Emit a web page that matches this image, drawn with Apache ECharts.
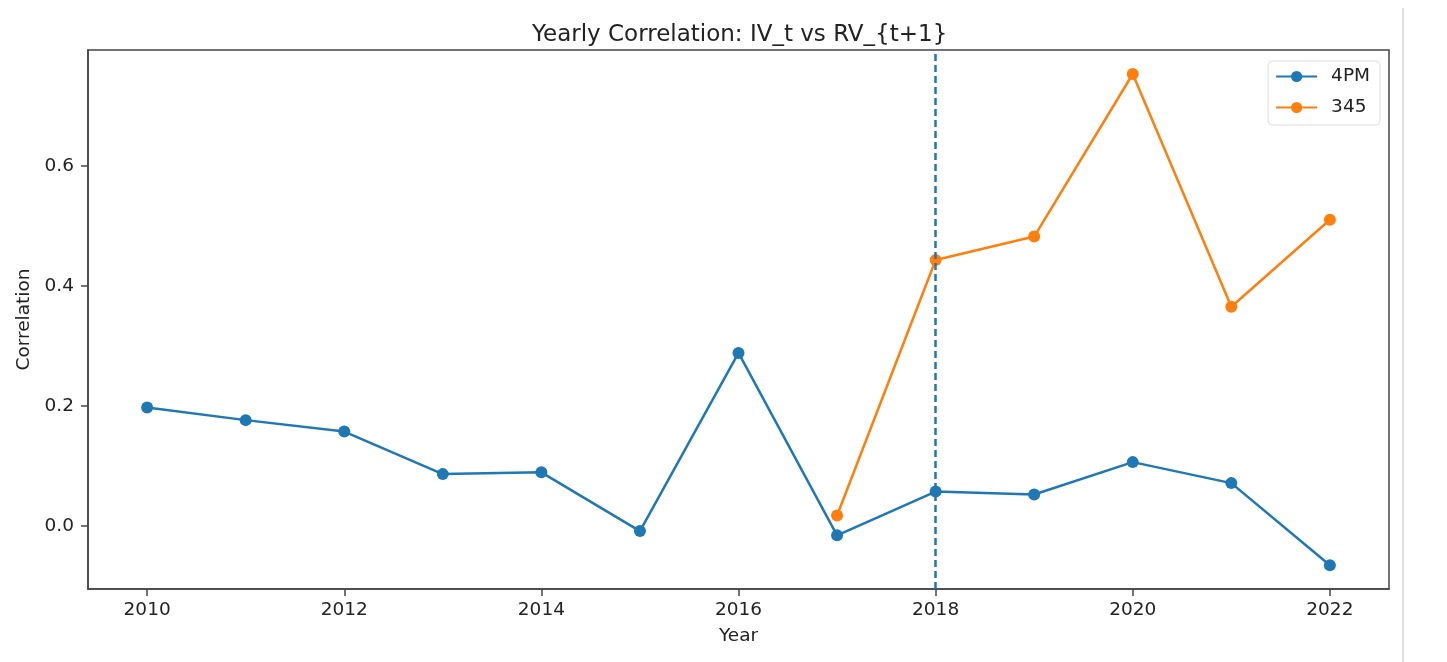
<!DOCTYPE html>
<html>
<head>
<meta charset="utf-8">
<script src="https://cdn.jsdelivr.net/npm/echarts@6/dist/echarts.min.js"></script>
<style>
  html, body { margin: 0; padding: 0; background: #fff; }
  #main { width: 1447px; height: 662px; }
</style>
</head>
<body>
<div id="main"></div>
<script>
const years = [2010, 2011, 2012, 2013, 2014, 2015, 2016, 2017, 2018, 2019, 2020, 2021, 2022];
const corr4pm = [0.197, 0.176, 0.157, 0.086, 0.089, -0.009, 0.288, -0.016, 0.057, 0.052, 0.106, 0.071, -0.066];
const years345 = [2017, 2018, 2019, 2020, 2021, 2022];
const corr345 = [0.017, 0.443, 0.482, 0.753, 0.365, 0.510];
const xTicks = [2010, 2012, 2014, 2016, 2018, 2020, 2022];
const yTicks = [0.0, 0.2, 0.4, 0.6];
const splitYear = 2018;

const font = 'DejaVu Sans';
const axisColor = '#444';

const chart = echarts.init(document.getElementById('main'));

chart.setOption({
  backgroundColor: '#fff',
  animation: false,
  textStyle: { fontFamily: font },
  title: {
    text: 'Yearly Correlation: IV_t vs RV_{t+1}',
    left: 527,
    top: 19,
    textStyle: { fontFamily: font, fontSize: 23, fontWeight: 'normal', color: '#222' }
  },
  legend: {
    orient: 'vertical',
    right: 67,
    top: 61,
    itemWidth: 41,
    itemHeight: 14,
    itemGap: 12,
    padding: [6, 10, 8, 7],
    borderColor: '#ddd',
    borderWidth: 1,
    borderRadius: 4,
    backgroundColor: '#fff',
    textStyle: { fontFamily: font, fontSize: 18.5, color: '#222', padding: [0, 0, 0, 9] },
    data: ['4PM', '345']
  },
  grid: { left: 88, right: 58, top: 50, bottom: 73, show: true, borderColor: axisColor, borderWidth: 1.5 },
  xAxis: {
    type: 'value',
    min: 2009.4,
    max: 2022.6,
    name: 'Year',
    nameLocation: 'middle',
    nameGap: 38,
    nameTextStyle: { fontFamily: font, fontSize: 18.5, color: '#222' },
    axisLine: { show: true, onZero: false, lineStyle: { color: axisColor, width: 1.5 } },
    axisTick: { show: true, length: 7, lineStyle: { color: axisColor, width: 1.5 }, customValues: xTicks },
    axisLabel: { fontFamily: font, fontSize: 18.5, color: '#222', margin: 12, customValues: xTicks, formatter: v => String(v) },
    splitLine: { show: false }
  },
  yAxis: {
    type: 'value',
    min: -0.1055,
    max: 0.793,
    name: 'Correlation',
    nameLocation: 'middle',
    nameGap: 54,
    nameTextStyle: { fontFamily: font, fontSize: 18.5, color: '#222' },
    axisLine: { show: true, onZero: false, lineStyle: { color: axisColor, width: 1.5 } },
    axisTick: { show: true, length: 7, lineStyle: { color: axisColor, width: 1.5 }, customValues: yTicks },
    axisLabel: { fontFamily: font, fontSize: 18.5, color: '#222', margin: 14, customValues: yTicks, formatter: v => v.toFixed(1) },
    splitLine: { show: false }
  },
  series: [
    {
      name: '4PM',
      type: 'line',
      data: years.map((y, i) => [y, corr4pm[i]]),
      symbol: 'circle',
      symbolSize: 12,
      lineStyle: { color: '#1f77b4', width: 2.5 },
      itemStyle: { color: '#1f77b4' },
      markLine: {
        silent: true,
        symbol: 'none',
        label: { show: false },
        lineStyle: { color: '#1f77b4', type: [7, 4], width: 2.5 },
        data: [{ xAxis: splitYear }]
      }
    },
    {
      name: '345',
      type: 'line',
      data: years345.map((y, i) => [y, corr345[i]]),
      symbol: 'circle',
      symbolSize: 12,
      lineStyle: { color: '#ff7f0e', width: 2.5 },
      itemStyle: { color: '#ff7f0e' }
    }
  ],
  graphic: [
    {
      type: 'line',
      shape: { x1: 1403, y1: 8, x2: 1403, y2: 662 },
      style: { stroke: '#d6d6d6', lineWidth: 1.5 }
    }
  ]
});

window.onresize = () => {
  chart.resize();
};
</script>
</body>
</html>
